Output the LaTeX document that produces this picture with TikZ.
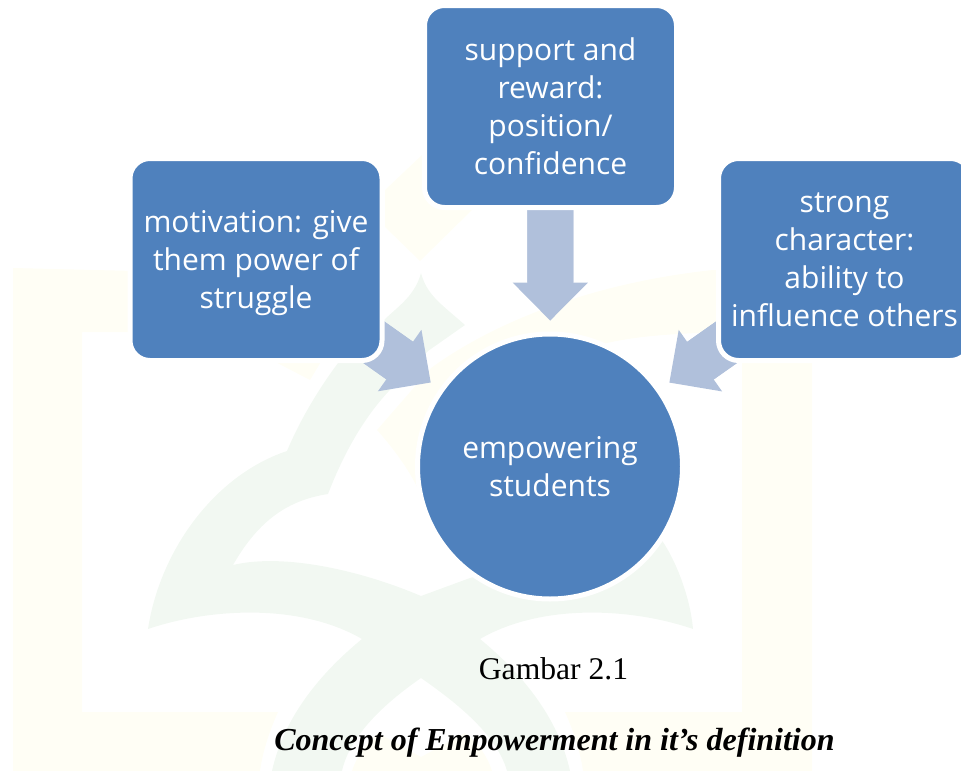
\documentclass[tikz,border=0pt]{standalone}
\usepackage{fontspec}
\setmainfont{Open Sans}
\newfontfamily\capfont{Liberation Serif}
\usetikzlibrary{arrows.meta}
\pgfdeclarelayer{wm}
\pgfdeclarelayer{conn}
\pgfsetlayers{wm,conn,main}
\definecolor{boxblue}{HTML}{4F81BD}
\definecolor{arrowblue}{HTML}{B0C0DB}
\definecolor{wmyellow}{HTML}{FFFEF5}
\definecolor{wmgreen}{HTML}{F2F8F2}
\tikzset{
  x=.75pt,y=-.75pt,
  boxtext/.style={font=\fontsize{22.5}{28.5}\selectfont,text=white,align=center},
  card/.style={boxtext,rectangle,rounded corners=15pt,fill=boxblue,draw=white,line width=3.75pt,minimum width=189pt,minimum height=151.5pt,inner sep=0pt},
  hub/.style={boxtext,circle,fill=boxblue,draw=white,line width=3.75pt,minimum size=198.75pt,inner sep=0pt},
  blockarrow/.style={draw=arrowblue,line width=34.5pt,shorten <=-30pt,shorten >=8.2pt,-{Triangle[length=28.5pt,width=56.5pt,line width=0pt,fill=arrowblue]},postaction={draw=arrowblue,line width=34.5pt,-,shorten <=-30pt,shorten >=28pt}},
  capone/.style={font=\capfont\fontsize{23.7}{28}\selectfont,text=black,inner sep=0pt},
  captwo/.style={font=\capfont\bfseries\itshape\fontsize{24}{28}\selectfont,text=black,inner sep=0pt},
  wmy/.style={fill=wmyellow,draw=none},
  wmg/.style={fill=wmgreen,draw=none}
}
\begin{document}
\begin{tikzpicture}
\useasboundingbox (0,0) rectangle (961,771);
\begin{pgfonlayer}{wm}
  % yellow frame
  \path[wmy] (13,268) -- (135,271) -- (135,332) -- (82,332) -- (82,712) -- (278,712) .. controls (270,730) and (263,750) .. (260,771) -- (13,771) -- cycle;
  \path[wmy] (742,340) -- (742,712) -- (565,712) .. controls (573,730) and (580,750) .. (583,771) -- (812,771) -- (812,340) -- cycle;
  \path[wmy] (713,270) .. controls (600,282) and (500,318) .. (431,368) -- (377,430) .. controls (395,450) and (410,472) .. (417,487) -- (520,372) -- (607,343) .. controls (630,338) and (655,334) .. (725,332) -- (725,270) -- cycle;
  \path[wmy] (422,155) -- (385,190) -- (385,227) -- (420,261) -- (473,209) -- (440,180) -- cycle;
  \path[wmy] (262,355) -- (310,380) -- (325,355) -- cycle;
  \path[wmy] (378,733) -- (421,757) -- (465,733) .. controls (480,745) and (488,758) .. (492,771) -- (352,771) .. controls (356,758) and (365,745) .. (378,733) -- cycle;
  % green mark
  \path[wmg] (421,273) .. controls (415,295) and (400,305) .. (385,319) -- (338,363) .. controls (318,390) and (300,420) .. (287,451)
    .. controls (215,475) and (160,550) .. (148,629) .. controls (210,608) and (300,603) .. (362,639)
    .. controls (312,680) and (282,725) .. (272,771) -- (342,771) .. controls (350,735) and (385,703) .. (421,678)
    .. controls (457,703) and (497,735) .. (507,771) -- (570,771) .. controls (560,725) and (530,680) .. (480,639)
    .. controls (542,603) and (632,608) .. (693,629) .. controls (690,595) and (675,560) .. (663,542)
    -- (620,490) -- (500,570) -- (470,578) -- (421,596) .. controls (360,570) and (283,553) .. (233,565)
    .. controls (260,518) and (290,500) .. (328,494) .. controls (345,450) and (365,417) .. (388,392)
    -- (428,351) -- (465,325) .. controls (440,303) and (427,295) .. (421,273) -- cycle;
\end{pgfonlayer}
\node[card] (support) at (550.5,106.5) {support and\\reward:\\position/\\confidence};
\node[card] (motivation) at (256,259.5) {\rule{0pt}{21.5pt}motivation: give\\them power of\\struggle};
\node[card] (character) at (844.5,259.5) {strong\\character:\\ability to\\influence others};
\node[hub] (students) at (550,466.5) {empowering\\students};
\node[capone] (gambar) at (553.5,669) {Gambar 2.1};
\node[captwo] (concept) at (554.5,743) {Concept of Empowerment in it’s definition};
\begin{pgfonlayer}{conn}
  \draw[blockarrow] (support) -- (students);
  \draw[blockarrow] (motivation) -- (students);
  \draw[blockarrow] (character) -- (students);
\end{pgfonlayer}
\end{tikzpicture}
\end{document}
